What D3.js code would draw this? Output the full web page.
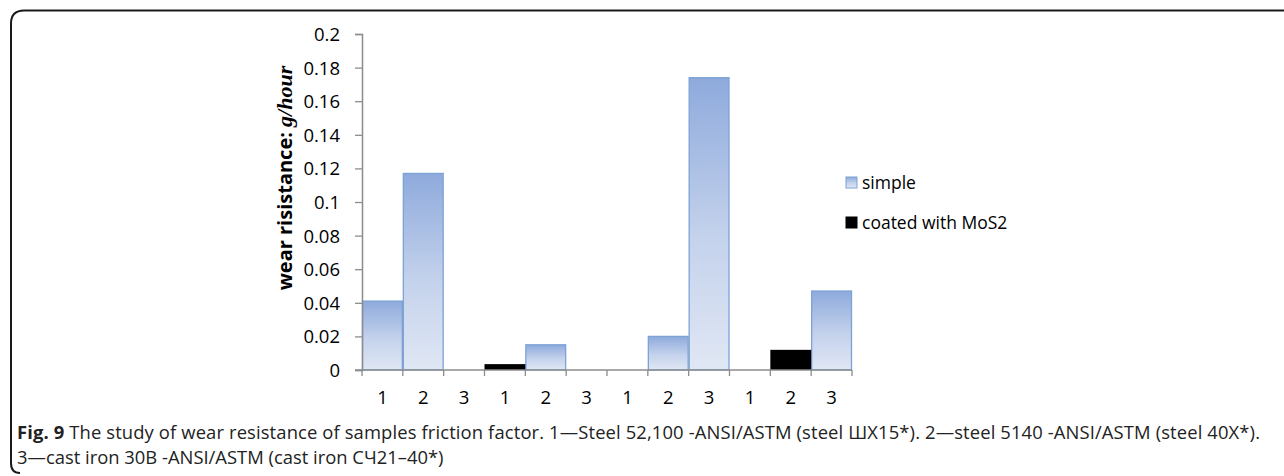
<!DOCTYPE html>
<html>
<head>
<meta charset="utf-8">
<script src="https://cdn.jsdelivr.net/npm/d3@7"></script>
<style>
  html, body { margin: 0; padding: 0; background: #fff; }
  svg { display: block; }
</style>
</head>
<body>
<svg id="chart" width="1284" height="476"></svg>
<script>
// Sample numbers along the x axis (three groups of 1–3, four times)
const categories = ["1", "2", "3", "1", "2", "3", "1", "2", "3", "1", "2", "3"];
// Wear rate, g/hour; null = no bar in that slot
const simpleValues = [0.041, 0.117, null, null, 0.015, null, null, 0.020, 0.174, null, null, 0.047];
const coatedValues = [null, null, null, 0.0035, null, null, null, null, null, null, 0.012, null];
const seriesNames = ["simple", "coated with MoS2"];
const yTicks = [0, 0.02, 0.04, 0.06, 0.08, 0.1, 0.12, 0.14, 0.16, 0.18, 0.2];

const svg = d3.select("#chart");
const tickFont = "'Open Sans', 'Noto Sans', sans-serif";

// outer rounded frame (right side runs off the page)
svg.append("path")
  .attr("d", "M1290,10.5 L24,10.5 Q11,10.5 11,23.5 L11,463 Q11,473 20,473")
  .attr("fill", "none").attr("stroke", "#1a1a1a").attr("stroke-width", 2);

const plot = { left: 362, right: 852, top: 34, bottom: 370 };

const x = d3.scaleBand().domain(d3.range(categories.length))
  .range([plot.left, plot.right]).paddingInner(0).paddingOuter(0);
const y = d3.scaleLinear().domain([0, 0.2]).range([plot.bottom, plot.top]);

const defs = svg.append("defs");
const grad = defs.append("linearGradient").attr("id", "simpleFill")
  .attr("x1", 0).attr("y1", 0).attr("x2", 0).attr("y2", 1);
grad.append("stop").attr("offset", "0%").attr("stop-color", "#8eaadc");
grad.append("stop").attr("offset", "55%").attr("stop-color", "#c4d2ec");
grad.append("stop").attr("offset", "100%").attr("stop-color", "#e0e7f4");

// simple bars
svg.append("g").selectAll("rect")
  .data(simpleValues.map((v, i) => ({ v, i })).filter(d => d.v != null))
  .join("rect")
  .attr("x", d => x(d.i) + 0.5)
  .attr("y", d => y(d.v))
  .attr("width", x.bandwidth() - 1)
  .attr("height", d => y(0) - y(d.v))
  .attr("fill", "url(#simpleFill)")
  .attr("stroke", "#7da2d6").attr("stroke-width", 1.3);

// coated bars
svg.append("g").selectAll("rect")
  .data(coatedValues.map((v, i) => ({ v, i })).filter(d => d.v != null))
  .join("rect")
  .attr("x", d => x(d.i))
  .attr("y", d => y(d.v))
  .attr("width", x.bandwidth())
  .attr("height", d => y(0) - y(d.v))
  .attr("fill", "#000");

// y axis
const yAxis = svg.append("g")
  .attr("transform", `translate(${plot.left},0)`)
  .call(d3.axisLeft(y).tickValues(yTicks).tickSize(7).tickPadding(15)
    .tickFormat(d => d3.format("~g")(d)));
yAxis.select(".domain").attr("stroke", "#8c8c8c").attr("stroke-width", 1.5);
yAxis.selectAll(".tick line").attr("stroke", "#8c8c8c").attr("stroke-width", 1.3);
yAxis.selectAll(".tick text").attr("font-family", tickFont).attr("font-size", 18.5)
  .attr("fill", "#000").attr("dy", "0.35em");

// x axis: tick marks at slot boundaries, labels centred in slots
const xg = svg.append("g").attr("transform", `translate(0,${plot.bottom})`);
xg.append("line").attr("x1", plot.left - 7).attr("x2", plot.right)
  .attr("stroke", "#8c8c8c").attr("stroke-width", 1.5);
const bounds = d3.range(categories.length + 1).map(i => plot.left + i * x.step());
xg.selectAll("line.tk").data(bounds).join("line").attr("class", "tk")
  .attr("x1", d => d).attr("x2", d => d).attr("y1", 0).attr("y2", 6)
  .attr("stroke", "#8c8c8c").attr("stroke-width", 1.3);
xg.selectAll("text").data(categories).join("text")
  .attr("x", (d, i) => x(i) + x.bandwidth() / 2)
  .attr("y", 34)
  .attr("text-anchor", "middle")
  .attr("font-family", tickFont).attr("font-size", 18.5).attr("fill", "#000")
  .text(d => d);

// y axis title
const yt = svg.append("text")
  .attr("transform", `translate(292,${178}) rotate(-90)`)
  .attr("text-anchor", "middle")
  .attr("font-size", 20).attr("font-weight", "bold").attr("fill", "#000");
yt.append("tspan").attr("font-family", "'Open Sans', 'Noto Sans', sans-serif")
  .text("wear risistance: ");
yt.append("tspan").attr("font-family", "'Liberation Serif', 'DejaVu Serif', serif")
  .attr("font-style", "italic").attr("font-size", 22).text("g/hour");

// legend
const legend = svg.append("g").attr("transform", "translate(846,0)");
const legendY = [183, 223];
legend.selectAll("rect").data(seriesNames).join("rect")
  .attr("x", 0).attr("y", (d, i) => legendY[i] - 6)
  .attr("width", 11).attr("height", 11)
  .attr("fill", (d, i) => i === 0 ? "url(#simpleFill)" : "#000")
  .attr("stroke", (d, i) => i === 0 ? "#7da2d6" : "#000");
legend.selectAll("text").data(seriesNames).join("text")
  .attr("x", 16).attr("y", (d, i) => legendY[i])
  .attr("dy", "0.35em")
  .attr("font-family", tickFont).attr("font-size", 17.5).attr("fill", "#000")
  .text(d => d);

// caption
const capFont = "'Open Sans', 'Noto Sans', sans-serif";
const cap1 = svg.append("text").attr("x", 17).attr("y", 439)
  .attr("font-family", capFont).attr("font-size", 18.4).attr("fill", "#222")
  .attr("textLength", 1243).attr("lengthAdjust", "spacing");
cap1.append("tspan").attr("font-weight", "bold").text("Fig. 9");
cap1.append("tspan").text(" The study of wear resistance of samples friction factor. 1\u2014Steel 52,100 -ANSI/ASTM (steel \u0428\u042515*). 2\u2014steel 5140 -ANSI/ASTM (steel 40X*).");
svg.append("text").attr("x", 17).attr("y", 464)
  .attr("font-family", capFont).attr("font-size", 18.4).attr("fill", "#222")
  .text("3\u2014cast iron 30B -ANSI/ASTM (cast iron \u0421\u042721\u201340*)");
</script>
</body>
</html>
